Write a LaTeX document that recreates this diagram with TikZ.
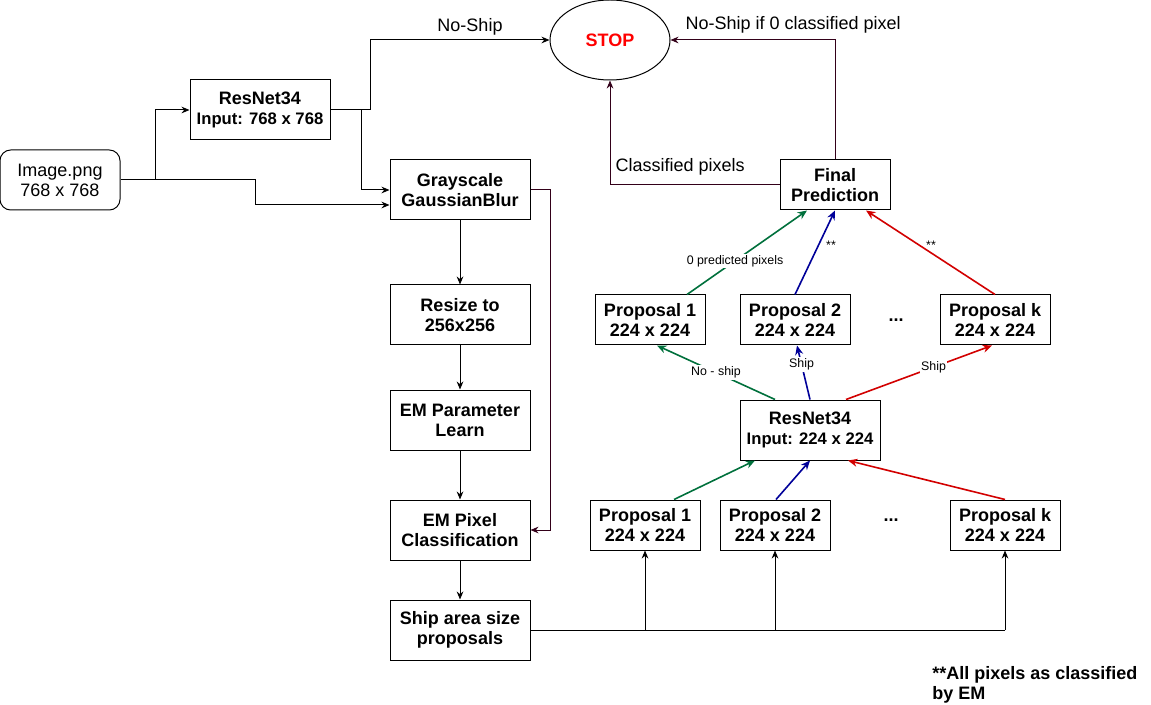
\documentclass[tikz,border=0pt]{standalone}
\usepackage{fontspec}
\setmainfont{Liberation Sans}
\usetikzlibrary{arrows.meta,shapes.geometric,calc}
\definecolor{cgreen}{RGB}{0,112,60}
\definecolor{cblue}{RGB}{0,0,153}
\definecolor{cred}{RGB}{210,0,0}
\definecolor{cpurple}{RGB}{51,0,25}
\definecolor{stopred}{RGB}{255,0,0}
\begin{document}
\begin{tikzpicture}[x=0.75pt,y=-0.75pt,
  box/.style={draw, line width=0.75pt, minimum width=105pt, minimum height=45pt, inner sep=0pt, align=center, font=\fontsize{13.5}{15}\selectfont\bfseries},
  pbox/.style={box, minimum width=82.5pt, minimum height=37.5pt, font=\fontsize{13.5}{15.5}\selectfont\bfseries},
  arr/.style={-{Stealth[length=6pt,width=5pt]}, line width=0.75pt},
  carr/.style={-{Stealth[length=7pt,width=6pt]}, line width=1.2pt},
  lbl/.style={font=\fontsize{13.5}{15}\selectfont, inner sep=1pt, text=black},
  slbl/.style={font=\fontsize{9.3}{11}\selectfont, fill=white, inner sep=1pt, text=black}
]
\useasboundingbox (0,0) rectangle (1151,705);

% nodes
\node[box, font=\fontsize{13.5}{15}\selectfont, rounded corners=8pt, minimum width=90pt] (img) at (60,180) {Image.png\\768 x 768};
\node[box] (res1) at (260,110) {ResNet34\\{\fontsize{12.5}{15}\selectfont Input: 768 x 768}};
\node[box] (gray) at (460,190) {Grayscale\\GaussianBlur};
\node[box] (resize) at (460,315) {Resize to\\256x256};
\node[box] (emp) at (460,420) {EM Parameter\\Learn};
\node[box] (emc) at (460,530) {EM Pixel\\Classification};
\node[box] (ship) at (460,630) {Ship area size\\proposals};
\node[draw, ellipse, line width=0.75pt, minimum width=90pt, minimum height=60pt, inner sep=0pt, font=\fontsize{13.5}{15}\selectfont\bfseries, text=stopred] (stop) at (610,40) {STOP};
\node[pbox] (final) at (835,185) {Final\\Prediction};
\node[pbox] (p1) at (650,320) {Proposal 1\\224 x 224};
\node[pbox] (p2) at (795,320) {Proposal 2\\224 x 224};
\node[pbox] (pk) at (995,320) {Proposal k\\224 x 224};
\node[font=\fontsize{13.5}{15}\selectfont\bfseries] (dots1) at (896,320) {...};
\node[box] (res2) at (810,430) {ResNet34\\{\fontsize{12.5}{15}\selectfont Input: 224 x 224}};
\node[pbox] (q1) at (645,525) {Proposal 1\\224 x 224};
\node[pbox] (q2) at (775,525) {Proposal 2\\224 x 224};
\node[pbox] (qk) at (1005,525) {Proposal k\\224 x 224};
\node[font=\fontsize{13.5}{15}\selectfont\bfseries] (dots2) at (891,520) {...};
\node[anchor=north west, align=left, inner sep=0pt, font=\fontsize{13.5}{15}\selectfont\bfseries] (note) at (932,666) {**All pixels as classified\\by EM};

% left connectors
\coordinate (b1) at (155,180);
\draw[arr] (img.east) -- (b1) |- (res1.west);
\draw[arr] (b1) -- (255,180) |- ($(gray.west)+(0,15)$);
\draw[arr] (res1.east) -- (370,110) |- (stop.west);
\node[lbl] (noship) at (470,27) {No-Ship};
\draw[arr] (361,110) |- (gray.west);
\draw[arr, cpurple] (gray.east) -- (550,190) |- (emc.east);
\draw[arr] (gray) -- (resize);
\draw[arr] (resize) -- (emp);
\draw[arr] (emp) -- (emc);
\draw[arr] (emc) -- (ship);

% bottom distribution
\coordinate (e1) at (1005,630);
\draw[line width=0.75pt] (ship.east) -- (e1);
\draw[arr] (q1.south |- e1) -- (q1.south);
\draw[arr] (q2.south |- e1) -- (q2.south);
\draw[arr] (e1) -- (qk.south);

% proposals to ResNet34
\draw[carr, cgreen] ($(q1.north)+(29,0)$) -- ($(res2.south)+(-55,0)$);
\draw[carr, cblue] ($(q2.north)+(1,0)$) -- (res2.south);
\draw[carr, cred] (qk.north) -- ($(res2.south)+(38,0)$);

% ResNet34 to proposals
\draw[carr, cgreen] ($(res2.north)+(-35,0)$) -- node[slbl, pos=0.5] {No - ship} ($(p1.south)+(7,0)$);
\draw[carr, cblue] (res2.north) -- node[slbl, pos=0.65] {Ship} ($(p2.south)+(2,0)$);
\draw[carr, cred] ($(res2.north)+(36,0)$) -- node[slbl, pos=0.6] {Ship} ($(pk.south)+(-3,0)$);

% proposals to final
\draw[carr, cgreen] ($(p1.north)+(37,0)$) -- node[slbl, pos=0.4] {0 predicted pixels} ($(final.south)+(-28,0)$);
\draw[carr, cblue] (p2.north) -- (final.south);
\draw[carr, cred] (pk.north) -- ($(final.south)+(31,0)$);
\node[font=\fontsize{9.3}{11}\selectfont] (st1) at (831,245) {**};
\node[font=\fontsize{9.3}{11}\selectfont] (st2) at (931,245) {**};

% final to stop
\draw[arr, cpurple] (final.north) |- (stop.east);
\node[lbl, anchor=west] (nsz) at (684,25) {No-Ship if 0 classified pixel};
\draw[arr, cpurple] (final.west) -| (stop.south);
\node[lbl, anchor=west] (cls) at (614,167) {Classified pixels};
\end{tikzpicture}
\end{document}
